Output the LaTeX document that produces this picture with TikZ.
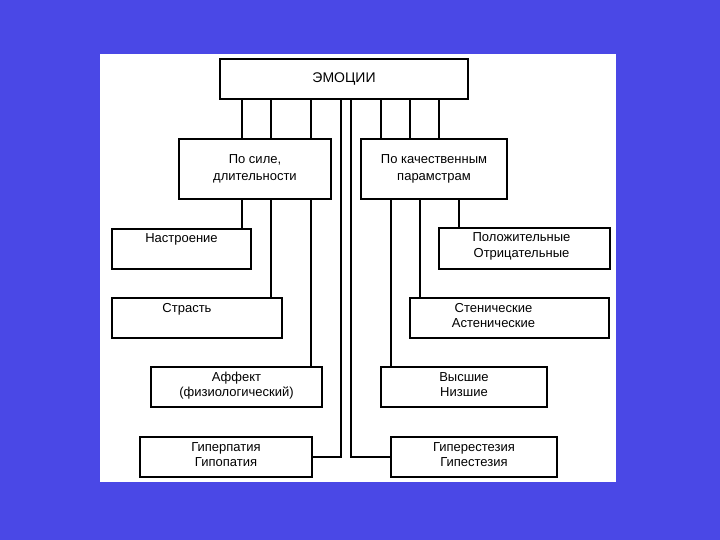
\documentclass[tikz,border=0pt]{standalone}
\usepackage{fontspec}
\setmainfont{Liberation Sans}
\definecolor{bgblue}{RGB}{74,72,230}
\newcommand\topbox[4]{\parbox[c][#2][t]{#1}{\centering\hspace*{#3}\rule{0pt}{14bp}#4}}
\tikzset{
  box/.style={draw, line width=1.5bp, fill=white, inner sep=0pt, align=center,
    font=\fontsize{13bp}{15.5bp}\selectfont},
  conn/.style={line width=1.6bp},
}
\begin{document}
\begin{tikzpicture}[x=1bp,y=-1bp]
\fill[bgblue] (0,0) rectangle (720,540);
\fill[white] (100,54) rectangle (616,482);
\useasboundingbox (0,0) rectangle (720,540);

\node[box, minimum width=248bp, minimum height=40bp, font=\fontsize{14bp}{16bp}\selectfont] (top) at (344,79) {ЭМОЦИИ};
\node[box, minimum width=152bp, minimum height=60bp, font=\fontsize{13bp}{17bp}\selectfont] (L) at (255,169) {По силе,\\длительности};
\node[box, minimum width=146bp, minimum height=60bp, font=\fontsize{13bp}{17bp}\selectfont] (R) at (434,169) {По качественным\\парамстрам};

\node[box] (n1) at (181.5,249) {\topbox{139bp}{40bp}{0bp}{Настроение}};
\node[box] (n2) at (197,318) {\topbox{170bp}{40bp}{-20bp}{Страсть}};
\node[box] (n3) at (236.5,387) {\topbox{171bp}{40bp}{0bp}{Аффект\\(физиологический)}};
\node[box] (n4) at (226,457) {\topbox{172bp}{40bp}{0bp}{Гиперпатия\\Гипопатия}};

\node[box] (p1) at (524.5,248.5) {\topbox{171bp}{41bp}{-6bp}{Положительные\\\hspace*{-6bp}Отрицательные}};
\node[box] (p2) at (509.5,318) {\topbox{199bp}{40bp}{-32bp}{Стенические\\\hspace*{-32bp}Астенические}};
\node[box] (p3) at (464,387) {\topbox{166bp}{40bp}{0bp}{Высшие\\Низшие}};
\node[box] (p4) at (474,457) {\topbox{166bp}{40bp}{0bp}{Гиперестезия\\Гипестезия}};

% left branch
\foreach \xx in {242,271,311}{
  \draw[conn] (top.south -| \xx,0) -- (L.north -| \xx,0);
}
\draw[conn] (L.south -| 242,0) -- (n1.north -| 242,0);
\draw[conn] (L.south -| 271,0) -- (n2.north -| 271,0);
\draw[conn] (L.south -| 311,0) -- (n3.north -| 311,0);
% right branch
\foreach \xx in {381,410,439}{
  \draw[conn] (top.south -| \xx,0) -- (R.north -| \xx,0);
}
\draw[conn] (R.south -| 459,0) -- (p1.north -| 459,0);
\draw[conn] (R.south -| 420,0) -- (p2.north -| 420,0);
\draw[conn] (R.south -| 391,0) -- (p3.north -| 391,0);
% central lines
\draw[conn] (top.south -| 341,0) |- (n4.east);
\draw[conn] (top.south -| 351,0) |- (p4.west);
\end{tikzpicture}
\end{document}
